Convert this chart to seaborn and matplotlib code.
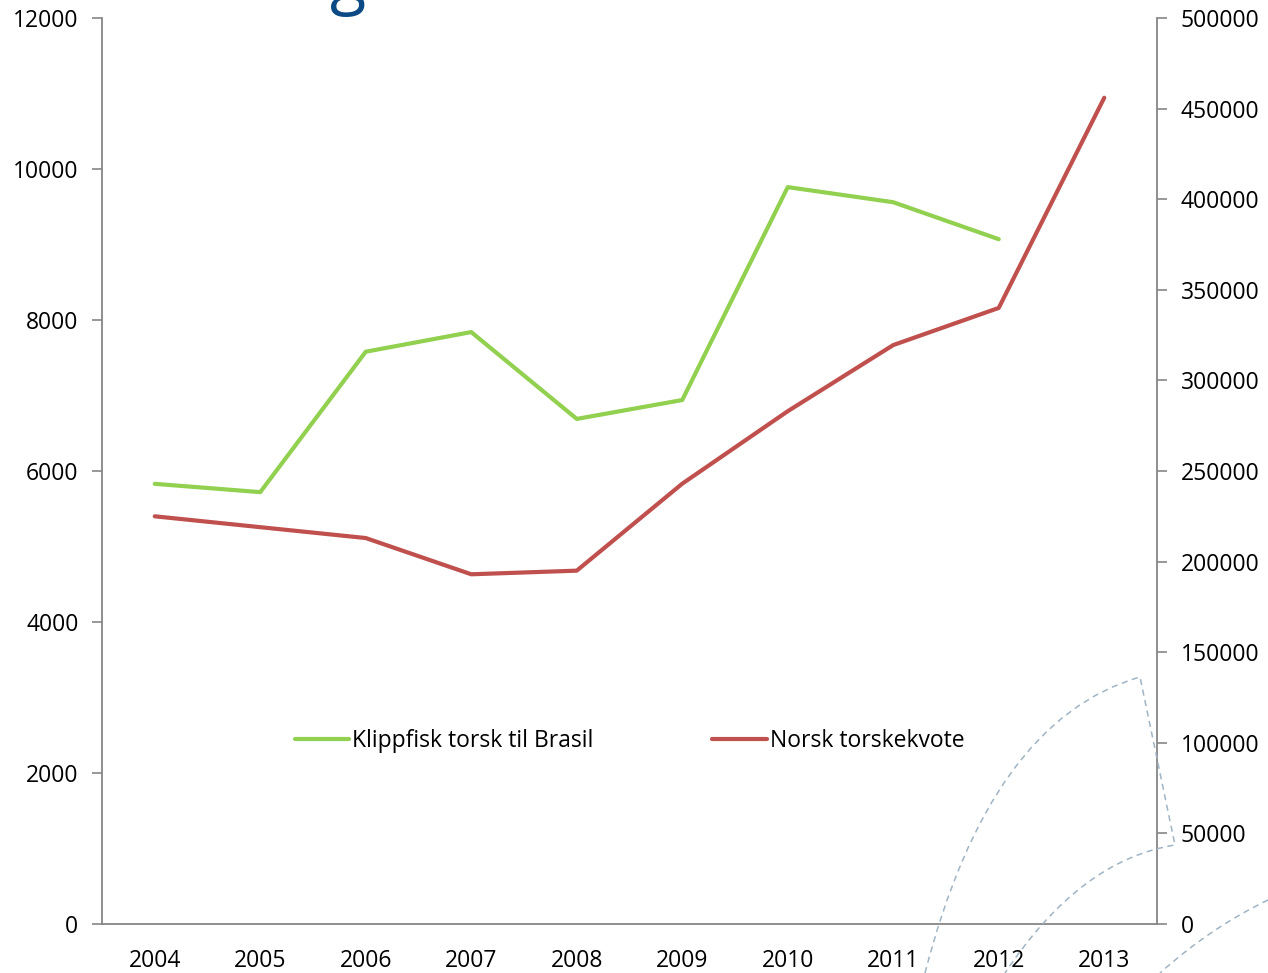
import numpy as np
import pandas as pd
import seaborn as sns
import matplotlib.pyplot as plt
from matplotlib.path import Path
from matplotlib.patches import PathPatch

# Data
years = ["2004", "2005", "2006", "2007", "2008", "2009", "2010", "2011", "2012", "2013"]
klippfisk = [5830, 5720, 7580, 7840, 6690, 6940, 9760, 9560, 9070, np.nan]
torskekvote = [225000, 219000, 213000, 193000, 195000, 243000, 283000, 319500, 340000, 456000]

green = "#92d050"
red = "#c0504d"
axis_grey = "#868686"

sns.set_theme(style="white")
plt.rcParams["font.family"] = ["Open Sans", "DejaVu Sans"]
plt.rcParams["text.color"] = "black"
plt.rcParams["xtick.color"] = "black"
plt.rcParams["ytick.color"] = "black"

df = pd.DataFrame({"pos": np.arange(len(years)), "klippfisk": klippfisk, "kvote": torskekvote})

fig = plt.figure(figsize=(12.68, 9.73), dpi=100)
ax = fig.add_axes([102 / 1268, 49 / 973, 1055 / 1268, 906 / 973])
ax2 = ax.twinx()

sns.lineplot(data=df, x="pos", y="klippfisk", ax=ax, color=green, linewidth=3,
             label="Klippfisk torsk til Brasil", legend=False)
sns.lineplot(data=df, x="pos", y="kvote", ax=ax2, color=red, linewidth=3,
             label="Norsk torskekvote", legend=False)

ax.set_xlim(-0.5, len(years) - 0.5)
ax.set_ylim(0, 12000)
ax2.set_ylim(0, 500000)
ax.set_yticks(range(0, 12001, 2000))
ax2.set_yticks(range(0, 500001, 50000))
ax.set_xlabel("")
ax.set_ylabel("")
ax2.set_ylabel("")

# category labels at centres, tick marks at boundaries
ax.set_xticks(np.arange(len(years)))
ax.set_xticklabels(years)
ax.set_xticks(np.arange(-0.5, len(years)), minor=True)
ax.tick_params(axis="x", which="major", length=0, pad=18, labelsize=16.5)
ax.tick_params(axis="x", which="minor", length=7, width=1.2, color=axis_grey, direction="out")
ax.tick_params(axis="y", length=7, width=1.2, color=axis_grey, direction="out", labelsize=16.5, pad=10)
ax2.tick_params(axis="y", length=7, width=1.2, color=axis_grey, direction="out", labelsize=16.5, pad=10)

for a in (ax, ax2):
    a.grid(False)
    a.spines["top"].set_visible(False)
    for s in ("left", "right", "bottom"):
        a.spines[s].set_color(axis_grey)
        a.spines[s].set_linewidth(1.3)
ax.spines["right"].set_visible(False)
ax2.spines["left"].set_visible(False)
ax2.spines["bottom"].set_visible(False)

h1, l1 = ax.get_legend_handles_labels()
h2, l2 = ax2.get_legend_handles_labels()
ax2.legend(h1 + h2, l1 + l2, loc="center", bbox_to_anchor=(0.5, 0.202), ncol=2,
           frameon=False, fontsize=16.5, handlelength=2.36, handletextpad=0.13,
           columnspacing=5.2)

# decorative dashed arcs in the lower right corner
W, H = 1268, 973
def px(x, y):
    return (x / W, 1 - y / H)

arcs = [
    [(px(925, 973), Path.MOVETO), (px(990, 720), Path.CURVE3), (px(1140, 677), Path.CURVE3),
     (px(1175, 845), Path.LINETO), (px(1080, 860), Path.CURVE3), (px(1005, 973), Path.CURVE3)],
    [(px(1268, 900), Path.MOVETO), (px(1210, 928), Path.CURVE3), (px(1160, 973), Path.CURVE3)],
]
for arc in arcs:
    verts, codes = zip(*arc)
    patch = PathPatch(Path(verts, codes), transform=fig.transFigure, fill=False,
                      edgecolor="#9fb4c4", linewidth=1.1, linestyle=(0, (4, 3)), clip_on=False)
    fig.add_artist(patch)

# clipped fragment of the slide title
fig.text(330 / W, 1 - 1 / H, "g", fontsize=48, color="#0b4a84", va="baseline")

fig.savefig("out.png", dpi=100)
